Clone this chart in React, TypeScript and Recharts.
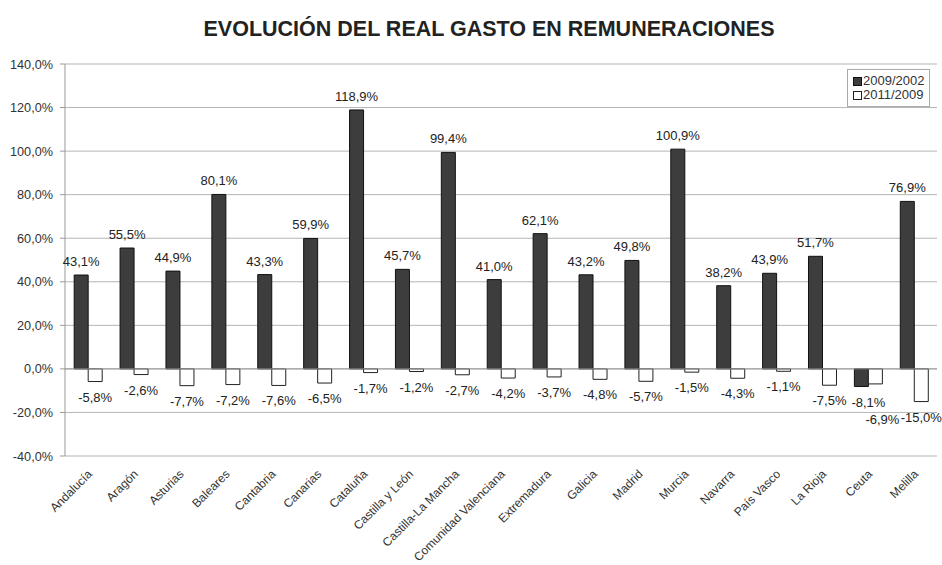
import React from 'react';
import { BarChart, Bar, XAxis, YAxis, CartesianGrid, Legend, LabelList, ReferenceLine } from 'recharts';

const categories = [
  'Andalucía', 'Aragón', 'Asturias', 'Baleares', 'Cantabria', 'Canarias', 'Cataluña',
  'Castilla y León', 'Castilla-La Mancha', 'Comunidad Valenciana', 'Extremadura', 'Galicia',
  'Madrid', 'Murcia', 'Navarra', 'País Vasco', 'La Rioja', 'Ceuta', 'Melilla',
];
const gasto2009_2002 = [43.1, 55.5, 44.9, 80.1, 43.3, 59.9, 118.9, 45.7, 99.4, 41.0, 62.1, 43.2, 49.8, 100.9, 38.2, 43.9, 51.7, -8.1, 76.9];
const gasto2011_2009 = [-5.8, -2.6, -7.7, -7.2, -7.6, -6.5, -1.7, -1.2, -2.7, -4.2, -3.7, -4.8, -5.7, -1.5, -4.3, -1.1, -7.5, -6.9, -15.0];
const yTicks = [-40, -20, 0, 20, 40, 60, 80, 100, 120, 140];

const data = categories.map((name, i) => ({ name, a: gasto2009_2002[i], b: gasto2011_2009[i] }));

const FONT = '"Liberation Sans", Arial, sans-serif';
const fmt = (v: number) => v.toFixed(1).replace('.', ',') + '%';

const BarLabel = (series: 'a' | 'b') => (props: any) => {
  const { x, y, width, height, value, index } = props;
  const top = Math.min(y, y + height);
  const bottom = Math.max(y, y + height);
  let cx = x + width / 2;
  let ty = value >= 0 ? top - 9 : bottom + 20;
  // when both series are negative the labels are pushed apart
  if (gasto2009_2002[index] < 0) {
    cx += 7;
    if (series === 'b') {
      const darkBottom = bottom + (Math.abs(gasto2009_2002[index]) - Math.abs(value)) * 2.18;
      ty = Math.max(ty, darkBottom + 20 + 17);
    }
  }
  return (
    <text x={cx} y={ty} textAnchor="middle" fontSize={13} fill="#222" fontFamily={FONT}>
      {fmt(value)}
    </text>
  );
};

const XTick = (props: any) => {
  const { x, y, payload } = props;
  return (
    <text
      transform={`translate(${x + 2},${y + 8}) rotate(-45)`}
      textAnchor="end"
      dy={4}
      fontSize={12}
      fill="#333"
      fontFamily={FONT}
    >
      {payload.value}
    </text>
  );
};

const LegendBox = () => (
  <div style={{
    border: '1px solid #aaa', background: '#fff', padding: '4px 3px 4px 5px',
    fontFamily: FONT, fontSize: 13, color: '#333', lineHeight: '14px', width: 73,
  }}>
    <div style={{ display: 'flex', alignItems: 'center' }}>
      <span style={{ width: 7, height: 7, background: '#3d3d3d', border: '1px solid #111', marginRight: 1 }} />
      2009/2002
    </div>
    <div style={{ display: 'flex', alignItems: 'center' }}>
      <span style={{ width: 7, height: 7, background: '#fff', border: '1px solid #222', marginRight: 1 }} />
      2011/2009
    </div>
  </div>
);

export default function App() {
  return (
    <div style={{ position: 'absolute', left: 0, top: 0, width: 942, height: 565, background: '#fff' }}>
      <div style={{
        position: 'absolute', top: 17, left: 0, width: 978, textAlign: 'center',
        fontFamily: FONT, fontWeight: 'bold', fontSize: 21.5, color: '#222',
      }}>
        EVOLUCIÓN DEL REAL GASTO EN REMUNERACIONES
      </div>
      <BarChart
        width={942}
        height={565}
        data={data}
        margin={{ top: 64, right: 5, left: 0, bottom: 0 }}
        barCategoryGap="20%"
        barGap={0}
      >
        <CartesianGrid vertical={false} stroke="#b5b5b5" yAxisId="l" />
        <XAxis dataKey="name" interval={0} height={109} tick={<XTick />} axisLine={false} tickLine={false} />
        <YAxis
          yAxisId="l"
          width={65}
          domain={[-40, 140]}
          ticks={yTicks}
          tickFormatter={fmt}
          tick={{ fontSize: 12.7, fill: '#333', fontFamily: FONT }}
          tickSize={5}
          tickMargin={7}
          axisLine={{ stroke: '#999' }}
          tickLine={{ stroke: '#999' }}
        />
        <YAxis
          yAxisId="r"
          orientation="right"
          width={0}
          domain={[-40, 140]}
          ticks={yTicks}
          tick={false}
          tickLine={false}
          axisLine={{ stroke: '#999' }}
        />
        <ReferenceLine y={0} yAxisId="l" stroke="#999" />
        <Legend
          layout="vertical"
          align="center"
          verticalAlign="middle"
          content={<LegendBox />}
          wrapperStyle={{ position: 'absolute', top: 69, left: 847, width: 83 }}
        />
        <Bar yAxisId="l" dataKey="a" name="2009/2002" fill="#3d3d3d" stroke="#111" isAnimationActive={false}>
          <LabelList dataKey="a" content={BarLabel('a')} />
        </Bar>
        <Bar yAxisId="l" dataKey="b" name="2011/2009" fill="#fff" stroke="#222" isAnimationActive={false}>
          <LabelList dataKey="b" content={BarLabel('b')} />
        </Bar>
      </BarChart>
    </div>
  );
}
